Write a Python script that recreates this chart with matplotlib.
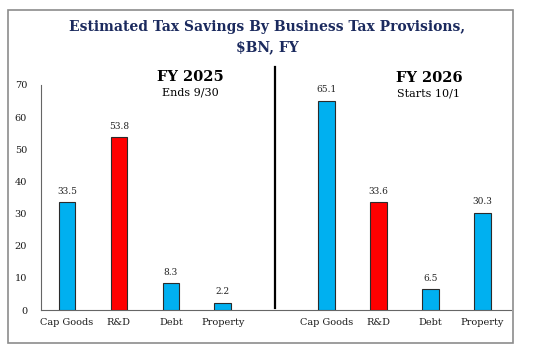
import matplotlib.pyplot as plt
from matplotlib.patches import Rectangle

# data
categories = ["Cap Goods", "R&D", "Debt", "Property"]
fy2025 = [33.5, 53.8, 8.3, 2.2]
fy2026 = [65.1, 33.6, 6.5, 30.3]
highlight = "R&D"

BLUE = "#00B0F0"
RED = "#FF0000"
NAVY = "#1B2A5E"
SERIF = "DejaVu Serif"

plt.rcParams["font.family"] = SERIF

fig = plt.figure(figsize=(5.34, 3.51), dpi=100)
ax = fig.add_axes([41 / 534, 41 / 351, 470 / 534, 225 / 351])

# outer frame
fig.patches.append(Rectangle((8 / 534, 8 / 351), 505 / 534, 333 / 351, transform=fig.transFigure,
                             fill=False, edgecolor="#8C8C8C", lw=1.2))

pos25 = list(range(len(categories)))
pos26 = [p + len(categories) + 1 for p in pos25]
width = 0.32

for positions, values in [(pos25, fy2025), (pos26, fy2026)]:
    colors = [RED if c == highlight else BLUE for c in categories]
    ax.bar(positions, values, width=width, color=colors, edgecolor="#2b2b2b", linewidth=0.8, zorder=3)
    for x, v in zip(positions, values):
        ax.text(x, v + 2.0, f"{v:.1f}", ha="center", va="bottom", fontsize=6.5, color="#222222")

ax.set_xlim(-0.5, 8.55)
ax.set_ylim(0, 70)
ax.set_yticks(range(0, 71, 10))
ax.set_xticks(pos25 + pos26)
ax.set_xticklabels(categories + categories)
ax.tick_params(axis="both", length=0, labelsize=7, colors="#1a1a1a")
ax.tick_params(axis="y", pad=10)
ax.tick_params(axis="x", pad=6)

for s in ["top", "right"]:
    ax.spines[s].set_visible(False)
ax.spines["left"].set_color("#666666")
ax.spines["bottom"].set_color("#666666")

# divider between fiscal years
ax.axvline(len(categories), ymin=0.01, ymax=1.08, color="black", lw=1.6, clip_on=False)

# panel headers
ax.text(2.38, 72.5, "FY 2025", ha="center", va="center", fontsize=10.5, fontweight="bold")
ax.text(2.38, 67.8, "Ends 9/30", ha="center", va="center", fontsize=8)
ax.text(6.97, 72.2, "FY 2026", ha="center", va="center", fontsize=10.5, fontweight="bold")
ax.text(6.97, 67.5, "Starts 10/1", ha="center", va="center", fontsize=8)

fig.text(0.5, 1 - 27 / 351, "Estimated Tax Savings By Business Tax Provisions,", ha="center", va="center",
         fontsize=10, fontweight="bold", color=NAVY)
fig.text(0.5, 1 - 47 / 351, "$BN, FY", ha="center", va="center",
         fontsize=10, fontweight="bold", color=NAVY)

fig.savefig("out.png", dpi=100)
